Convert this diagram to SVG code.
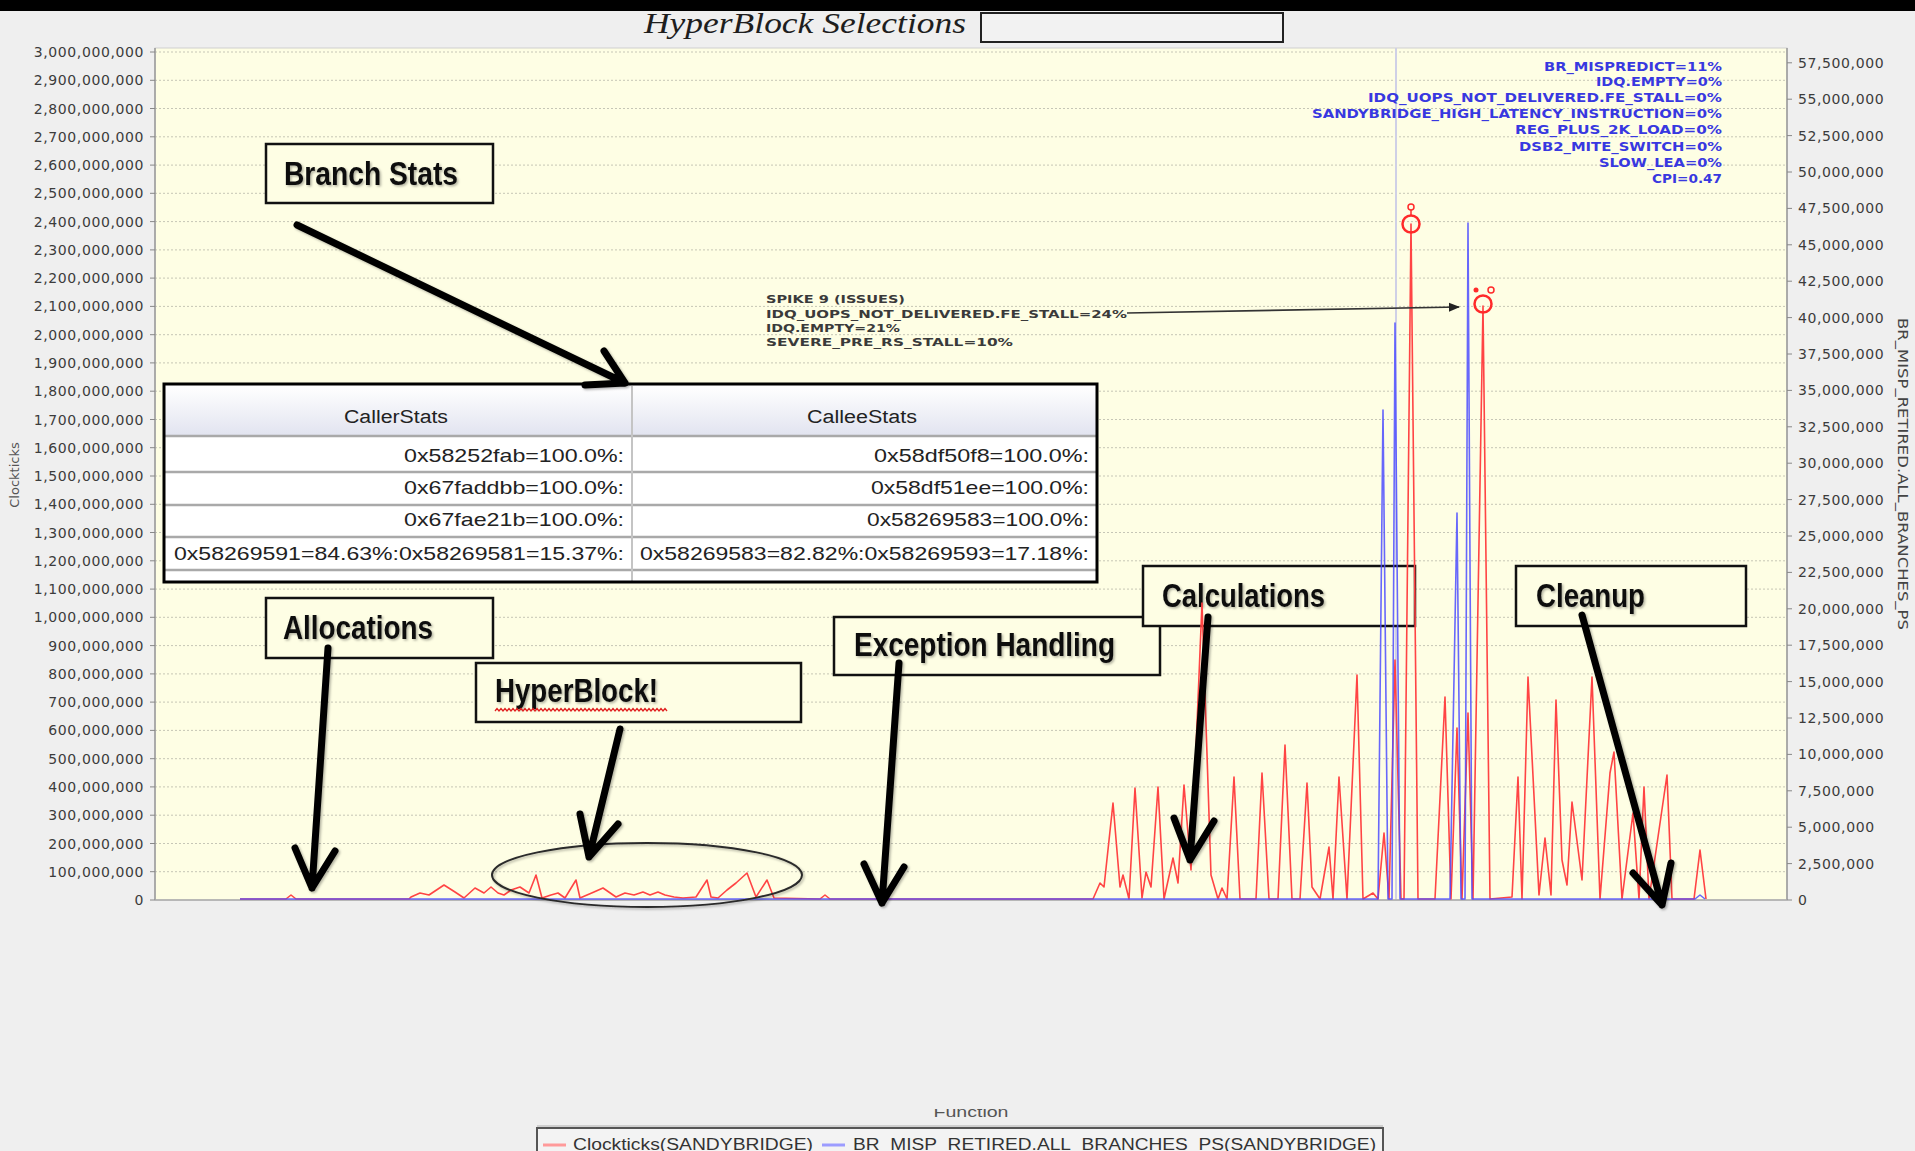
<svg xmlns="http://www.w3.org/2000/svg" width="1915" height="1151" viewBox="0 0 1915 1151">
<style>
.ax{font-family:"DejaVu Sans",Verdana,sans-serif;font-size:14px;fill:#3c3c3c;letter-spacing:0.6px}
.axl{text-anchor:end}
.grid{stroke:#c6c6b6;stroke-width:1;stroke-dasharray:2 2;fill:none}
.tick{stroke:#888;stroke-width:1}
.blue{font-family:"DejaVu Sans",Verdana,sans-serif;font-weight:bold;font-size:12px;fill:#3838e0;text-anchor:end}
.spk{font-family:"DejaVu Sans",Verdana,sans-serif;font-weight:bold;font-size:11px;fill:#3a3a3a}
.box{fill:#fefee4;stroke:#111;stroke-width:2.5}
.call{font-family:"Liberation Sans Narrow","Liberation Sans",Arial,sans-serif;font-weight:bold;font-size:33px;fill:#111}
.cell{font-family:"Liberation Sans",Arial,sans-serif;font-size:19px;fill:#222;text-anchor:end}
.hdr{font-family:"Liberation Sans",Arial,sans-serif;font-size:18px;fill:#222;text-anchor:middle}
.arr{fill:none;stroke:#000;stroke-width:7;stroke-linecap:round;stroke-linejoin:round}
.leg{font-family:"Liberation Sans",Arial,sans-serif;font-size:16px;fill:#333}
</style>
<defs>
<filter id="sh" x="-10%" y="-10%" width="130%" height="130%">
<feDropShadow dx="1.5" dy="1.5" stdDeviation="1.2" flood-color="#000" flood-opacity="0.3"/>
</filter>
<linearGradient id="hg" x1="0" y1="0" x2="0" y2="1">
<stop offset="0" stop-color="#ffffff"/>
<stop offset="1" stop-color="#e2e4f0"/>
</linearGradient>
<marker id="ah" viewBox="0 0 10 10" refX="9" refY="5" markerWidth="7" markerHeight="7" orient="auto">
<path d="M0,1 L10,5 L0,9 z" fill="#222"/>
</marker>
<clipPath id="fc"><rect x="900" y="1109" width="150" height="20"/></clipPath>
</defs>

<rect width="1915" height="1151" fill="#efefef"/>
<rect width="1915" height="11" fill="#000"/>

<g id="title">
<text x="644" y="33" textLength="322" lengthAdjust="spacingAndGlyphs" font-family="Liberation Serif,serif" font-style="italic" font-size="29" fill="#1e1e1e">HyperBlock Selections</text>
<rect x="981" y="13" width="302" height="29" fill="#f2f2f2" stroke="#222" stroke-width="2"/>
</g>

<g id="plot">
<rect x="155" y="48" width="1632" height="852" fill="#fefee4" stroke="#d0d0d0" stroke-width="1"/>
<path class="grid" d="M155 52H1787M155 80.3H1787M155 108.5H1787M155 136.8H1787M155 165.1H1787M155 193.3H1787M155 221.6H1787M155 249.9H1787M155 278.1H1787M155 306.4H1787M155 334.7H1787M155 362.9H1787M155 391.2H1787M155 419.5H1787M155 447.7H1787M155 476H1787M155 504.3H1787M155 532.5H1787M155 560.8H1787M155 589.1H1787M155 617.3H1787M155 645.6H1787M155 673.9H1787M155 702.1H1787M155 730.4H1787M155 758.7H1787M155 786.9H1787M155 815.2H1787M155 843.5H1787M155 871.7H1787"/>
<line x1="1396" y1="48" x2="1396" y2="900" stroke="#cfd0e6" stroke-width="2"/>
<line x1="155" y1="48" x2="155" y2="900" stroke="#999" stroke-width="1.5"/>
<line x1="1787" y1="48" x2="1787" y2="900" stroke="#999" stroke-width="1.5"/>
<line x1="155" y1="900" x2="1787" y2="900" stroke="#aaa" stroke-width="1.5"/>
</g>

<g id="left-axis">
<path class="tick" d="M150 52H155M150 80.3H155M150 108.5H155M150 136.8H155M150 165.1H155M150 193.3H155M150 221.6H155M150 249.9H155M150 278.1H155M150 306.4H155M150 334.7H155M150 362.9H155M150 391.2H155M150 419.5H155M150 447.7H155M150 476H155M150 504.3H155M150 532.5H155M150 560.8H155M150 589.1H155M150 617.3H155M150 645.6H155M150 673.9H155M150 702.1H155M150 730.4H155M150 758.7H155M150 786.9H155M150 815.2H155M150 843.5H155M150 871.7H155M150 900H155"/>
<g class="ax axl">
<text x="144" y="57">3,000,000,000</text>
<text x="144" y="85.3">2,900,000,000</text>
<text x="144" y="113.5">2,800,000,000</text>
<text x="144" y="141.8">2,700,000,000</text>
<text x="144" y="170.1">2,600,000,000</text>
<text x="144" y="198.3">2,500,000,000</text>
<text x="144" y="226.6">2,400,000,000</text>
<text x="144" y="254.9">2,300,000,000</text>
<text x="144" y="283.1">2,200,000,000</text>
<text x="144" y="311.4">2,100,000,000</text>
<text x="144" y="339.7">2,000,000,000</text>
<text x="144" y="367.9">1,900,000,000</text>
<text x="144" y="396.2">1,800,000,000</text>
<text x="144" y="424.5">1,700,000,000</text>
<text x="144" y="452.7">1,600,000,000</text>
<text x="144" y="481">1,500,000,000</text>
<text x="144" y="509.3">1,400,000,000</text>
<text x="144" y="537.5">1,300,000,000</text>
<text x="144" y="565.8">1,200,000,000</text>
<text x="144" y="594.1">1,100,000,000</text>
<text x="144" y="622.3">1,000,000,000</text>
<text x="144" y="650.6">900,000,000</text>
<text x="144" y="678.9">800,000,000</text>
<text x="144" y="707.1">700,000,000</text>
<text x="144" y="735.4">600,000,000</text>
<text x="144" y="763.7">500,000,000</text>
<text x="144" y="791.9">400,000,000</text>
<text x="144" y="820.2">300,000,000</text>
<text x="144" y="848.5">200,000,000</text>
<text x="144" y="876.7">100,000,000</text>
<text x="144" y="905">0</text>
</g>
<text transform="translate(19,475) rotate(-90)" text-anchor="middle" font-family="DejaVu Sans,sans-serif" font-size="13" fill="#555">Clockticks</text>
</g>

<g id="right-axis">
<path class="tick" d="M1787 62.8H1792M1787 99.2H1792M1787 135.6H1792M1787 172H1792M1787 208.4H1792M1787 244.8H1792M1787 281.2H1792M1787 317.6H1792M1787 354H1792M1787 390.4H1792M1787 426.8H1792M1787 463.2H1792M1787 499.6H1792M1787 536H1792M1787 572.4H1792M1787 608.8H1792M1787 645.2H1792M1787 681.6H1792M1787 718H1792M1787 754.4H1792M1787 790.8H1792M1787 827.2H1792M1787 863.6H1792M1787 900H1792"/>
<g class="ax">
<text x="1798" y="67.8">57,500,000</text>
<text x="1798" y="104.2">55,000,000</text>
<text x="1798" y="140.6">52,500,000</text>
<text x="1798" y="177">50,000,000</text>
<text x="1798" y="213.4">47,500,000</text>
<text x="1798" y="249.8">45,000,000</text>
<text x="1798" y="286.2">42,500,000</text>
<text x="1798" y="322.6">40,000,000</text>
<text x="1798" y="359">37,500,000</text>
<text x="1798" y="395.4">35,000,000</text>
<text x="1798" y="431.8">32,500,000</text>
<text x="1798" y="468.2">30,000,000</text>
<text x="1798" y="504.6">27,500,000</text>
<text x="1798" y="541">25,000,000</text>
<text x="1798" y="577.4">22,500,000</text>
<text x="1798" y="613.8">20,000,000</text>
<text x="1798" y="650.2">17,500,000</text>
<text x="1798" y="686.6">15,000,000</text>
<text x="1798" y="723">12,500,000</text>
<text x="1798" y="759.4">10,000,000</text>
<text x="1798" y="795.8">7,500,000</text>
<text x="1798" y="832.2">5,000,000</text>
<text x="1798" y="868.6">2,500,000</text>
<text x="1798" y="905">0</text>
</g>
<text transform="translate(1898,474) rotate(90)" text-anchor="middle" textLength="312" lengthAdjust="spacingAndGlyphs" font-family="DejaVu Sans,sans-serif" font-size="14" fill="#444">BR_MISP_RETIRED.ALL_BRANCHES_PS</text>
</g>

<g id="callout-branch-stats">
<rect class="box" x="266" y="144" width="227" height="59"/>
<text class="call" x="284" y="185" textLength="174" lengthAdjust="spacingAndGlyphs" filter="url(#sh)">Branch Stats</text>
</g>
<g id="callout-allocations">
<rect class="box" x="266" y="598" width="227" height="60"/>
<text class="call" x="283" y="639" textLength="150" lengthAdjust="spacingAndGlyphs" filter="url(#sh)">Allocations</text>
</g>
<g id="callout-hyperblock">
<rect class="box" x="476" y="663" width="325" height="59"/>
<text class="call" x="495" y="702" textLength="163" lengthAdjust="spacingAndGlyphs" filter="url(#sh)">HyperBlock!</text>
<path d="M495 711 l2 -2.5 l2 2.5 l2 -2.5 l2 2.5 l2 -2.5 l2 2.5 l2 -2.5 l2 2.5 l2 -2.5 l2 2.5 l2 -2.5 l2 2.5 l2 -2.5 l2 2.5 l2 -2.5 l2 2.5 l2 -2.5 l2 2.5 l2 -2.5 l2 2.5 l2 -2.5 l2 2.5 l2 -2.5 l2 2.5 l2 -2.5 l2 2.5 l2 -2.5 l2 2.5 l2 -2.5 l2 2.5 l2 -2.5 l2 2.5 l2 -2.5 l2 2.5 l2 -2.5 l2 2.5 l2 -2.5 l2 2.5 l2 -2.5 l2 2.5 l2 -2.5 l2 2.5 l2 -2.5 l2 2.5 l2 -2.5 l2 2.5 l2 -2.5 l2 2.5 l2 -2.5 l2 2.5 l2 -2.5 l2 2.5 l2 -2.5 l2 2.5 l2 -2.5 l2 2.5 l2 -2.5 l2 2.5 l2 -2.5 l2 2.5 l2 -2.5 l2 2.5 l2 -2.5 l2 2.5 l2 -2.5 l2 2.5 l2 -2.5 l2 2.5 l2 -2.5 l2 2.5 l2 -2.5 l2 2.5 l2 -2.5 l2 2.5 l2 -2.5 l2 2.5 l2 -2.5 l2 2.5 l2 -2.5 l2 2.5 l2 -2.5 l2 2.5 l2 -2.5 l2 2.5 l2 -2.5 l2 2.5" fill="none" stroke="#e02020" stroke-width="1.3"/>
</g>
<g id="callout-exception">
<rect class="box" x="834" y="617" width="326" height="58"/>
<text class="call" x="854" y="656" textLength="261" lengthAdjust="spacingAndGlyphs" filter="url(#sh)">Exception Handling</text>
</g>
<g id="callout-calculations">
<rect class="box" x="1143" y="566" width="272" height="60"/>
<text class="call" x="1162" y="607" textLength="163" lengthAdjust="spacingAndGlyphs" filter="url(#sh)">Calculations</text>
</g>
<g id="callout-cleanup">
<rect class="box" x="1516" y="566" width="230" height="60"/>
<text class="call" x="1536" y="607" textLength="109" lengthAdjust="spacingAndGlyphs" filter="url(#sh)">Cleanup</text>
</g>

<g id="series">
<polyline fill="none" stroke="#ff4444" stroke-width="1.6" stroke-linejoin="round" points="240,899 286,899 291,895 296,899 409,899 411,897 420,893 429,895 444,885 455,892 464,898 475,888 484,893 491,887 498,893 504,895 511,890 520,887 529,893 536,875 542,898 551,895 558,893 565,898 576,880 580,898 594,892 603,888 616,897 625,893 634,895 643,892 650,895 658,892 665,895 674,897 683,898 696,897 707,880 711,897 718,898 727,890 736,883 747,873 756,897 767,880 774,898 820,899 825,895 830,899 1093,899 1100,883 1104,887 1113,803 1120,887 1123,875 1129,899 1135,788 1142,898 1146,872 1151,887 1158,787 1164,899 1173,858 1178,883 1184,785 1191,870 1202,603 1211,875 1218,899 1222,888 1227,899 1234,777 1240,899 1256,899 1262,773 1269,899 1278,899 1285,745 1292,899 1300,899 1307,783 1312,887 1320,899 1329,847 1333,899 1339,777 1347,899 1357,675 1363,899 1373,893 1378,899 1384,833 1389,899 1395,660 1401,899 1404,899 1411,224 1418,899 1435,899 1445,697 1451,899 1457,728 1462,899 1468,713 1473,899 1483,306 1490,899 1512,897 1518,777 1522,899 1528,677 1539,895 1545,838 1551,895 1556,700 1562,860 1567,885 1572,802 1582,880 1592,677 1600,899 1610,773 1614,752 1622,899 1633,813 1639,899 1644,787 1649,899 1667,775 1672,899 1694,899 1700,850 1706,899"/>
<polyline fill="none" stroke="#4c4cff" stroke-width="1.6" stroke-opacity="0.85" stroke-linejoin="round" points="240,899 1378,899 1383,410 1388,899 1392,899 1395,323 1400,899 1450,899 1457,513 1461,899 1465,899 1468,223 1472,899 1695,899 1700,895 1705,899"/>
<g fill="none" stroke="#ff2a2a" stroke-width="2.5">
<circle cx="1411" cy="224" r="8.5"/>
<circle cx="1483" cy="304" r="8.5"/>
</g>
<g fill="none" stroke="#ff2a2a" stroke-width="1.5">
<circle cx="1411" cy="207" r="3"/>
<line x1="1411" y1="210" x2="1411" y2="215"/>
<circle cx="1491" cy="290" r="3"/>
</g>
<circle cx="1476" cy="290" r="2.5" fill="#ff2a2a"/>
</g>

<g id="ellipse-hyperblock">
<ellipse cx="647" cy="875" rx="155" ry="32" fill="none" stroke="#2a2a2a" stroke-width="2" filter="url(#sh)"/>
</g>

<g id="metrics-annotation">
<text class="blue" x="1722" y="71" textLength="178" lengthAdjust="spacingAndGlyphs">BR_MISPREDICT=11%</text>
<text class="blue" x="1722" y="86" textLength="126" lengthAdjust="spacingAndGlyphs">IDQ.EMPTY=0%</text>
<text class="blue" x="1722" y="102" textLength="354" lengthAdjust="spacingAndGlyphs">IDQ_UOPS_NOT_DELIVERED.FE_STALL=0%</text>
<text class="blue" x="1722" y="118" textLength="410" lengthAdjust="spacingAndGlyphs">SANDYBRIDGE_HIGH_LATENCY_INSTRUCTION=0%</text>
<text class="blue" x="1722" y="134" textLength="207" lengthAdjust="spacingAndGlyphs">REG_PLUS_2K_LOAD=0%</text>
<text class="blue" x="1722" y="151" textLength="203" lengthAdjust="spacingAndGlyphs">DSB2_MITE_SWITCH=0%</text>
<text class="blue" x="1722" y="167" textLength="123" lengthAdjust="spacingAndGlyphs">SLOW_LEA=0%</text>
<text class="blue" x="1722" y="183" textLength="70" lengthAdjust="spacingAndGlyphs">CPI=0.47</text>
</g>

<g id="spike-annotation">
<text class="spk" x="766" y="303" textLength="139" lengthAdjust="spacingAndGlyphs">SPIKE 9 (ISSUES)</text>
<text class="spk" x="766" y="318" textLength="361" lengthAdjust="spacingAndGlyphs">IDQ_UOPS_NOT_DELIVERED.FE_STALL=24%</text>
<text class="spk" x="766" y="332" textLength="134" lengthAdjust="spacingAndGlyphs">IDQ.EMPTY=21%</text>
<text class="spk" x="766" y="346" textLength="247" lengthAdjust="spacingAndGlyphs">SEVERE_PRE_RS_STALL=10%</text>
</g>

<g id="table-branch-stats">
<rect x="164" y="384" width="933" height="198" fill="#ffffff"/>
<rect x="165" y="386" width="931" height="49" fill="url(#hg)"/>
<g stroke="#a9a9a9" stroke-width="2.5">
<line x1="164" y1="436" x2="1097" y2="436"/>
<line x1="164" y1="472" x2="1097" y2="472"/>
<line x1="164" y1="505" x2="1097" y2="505"/>
<line x1="164" y1="537" x2="1097" y2="537"/>
<line x1="164" y1="570" x2="1097" y2="570"/>
</g>
<line x1="632" y1="386" x2="632" y2="582" stroke="#c4c4c4" stroke-width="2"/>
<text class="hdr" x="396" y="423" textLength="104" lengthAdjust="spacingAndGlyphs">CallerStats</text>
<text class="hdr" x="862" y="423" textLength="110" lengthAdjust="spacingAndGlyphs">CalleeStats</text>
<text class="cell" x="624" y="462" textLength="220" lengthAdjust="spacingAndGlyphs">0x58252fab=100.0%:</text>
<text class="cell" x="624" y="494" textLength="220" lengthAdjust="spacingAndGlyphs">0x67faddbb=100.0%:</text>
<text class="cell" x="624" y="526" textLength="220" lengthAdjust="spacingAndGlyphs">0x67fae21b=100.0%:</text>
<text class="cell" x="624" y="560" textLength="450" lengthAdjust="spacingAndGlyphs">0x58269591=84.63%:0x58269581=15.37%:</text>
<text class="cell" x="1089" y="462" textLength="215" lengthAdjust="spacingAndGlyphs">0x58df50f8=100.0%:</text>
<text class="cell" x="1089" y="494" textLength="218" lengthAdjust="spacingAndGlyphs">0x58df51ee=100.0%:</text>
<text class="cell" x="1089" y="526" textLength="222" lengthAdjust="spacingAndGlyphs">0x58269583=100.0%:</text>
<text class="cell" x="1089" y="560" textLength="449" lengthAdjust="spacingAndGlyphs">0x58269583=82.82%:0x58269593=17.18%:</text>
<rect x="164" y="384" width="933" height="198" fill="none" stroke="#000" stroke-width="3"/>
</g>

<g id="connectors">
<line x1="1127" y1="313" x2="1459" y2="307" stroke="#333" stroke-width="1.6" marker-end="url(#ah)"/>
<g filter="url(#sh)">
<path class="arr" d="M297 225 L625 383 M585 385 L625 383 L604 351"/>
<path class="arr" d="M328 648 L312 888 M295 848 L312 888 L335 851"/>
<path class="arr" d="M620 729 L589 857 M580 814 L589 857 L618 824"/>
<path class="arr" d="M899 663 L882 903 M864 864 L882 903 L904 867"/>
<path class="arr" d="M1208 617 L1190 860 M1174 818 L1190 860 L1214 821"/>
<path class="arr" d="M1582 615 L1662 905 M1633 873 L1662 905 L1671 863"/>
</g>
</g>

<g id="x-axis-title">
<text x="971" y="1117" text-anchor="middle" textLength="75" lengthAdjust="spacingAndGlyphs" font-family="Liberation Sans,sans-serif" font-size="15" fill="#555" clip-path="url(#fc)">Function</text>
</g>

<g id="legend">
<line x1="537" y1="1126" x2="1383" y2="1126" stroke="#cfcfcf" stroke-width="2"/>
<rect x="537" y="1128" width="846" height="40" fill="#f3f3f3" stroke="#555" stroke-width="2"/>
<line x1="543" y1="1145" x2="566" y2="1145" stroke="#ff9a9a" stroke-width="3"/>
<text class="leg" x="573" y="1150" textLength="240" lengthAdjust="spacingAndGlyphs">Clockticks(SANDYBRIDGE)</text>
<line x1="822" y1="1145" x2="845" y2="1145" stroke="#9c9cff" stroke-width="3"/>
<text class="leg" x="853" y="1150" textLength="523" lengthAdjust="spacingAndGlyphs">BR_MISP_RETIRED.ALL_BRANCHES_PS(SANDYBRIDGE)</text>
</g>
</svg>
